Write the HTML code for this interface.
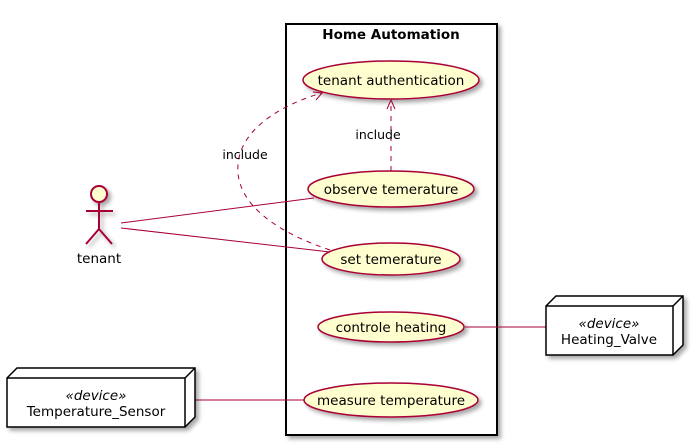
<!DOCTYPE html>
<html><head><style>body{margin:0;background:#fff}svg{display:block}</style></head><body>
<svg width="691" height="446" viewBox="0 0 691 446" xmlns="http://www.w3.org/2000/svg" font-family="'DejaVu Sans','Liberation Sans',sans-serif">
<defs><filter id="s" x="-20%" y="-20%" width="150%" height="160%"><feGaussianBlur in="SourceAlpha" stdDeviation="2"/><feOffset dx="3" dy="3"/><feComponentTransfer><feFuncA type="linear" slope="0.35"/></feComponentTransfer><feMerge><feMergeNode/><feMergeNode in="SourceGraphic"/></feMerge></filter></defs>
<rect x="286" y="24" width="211" height="411" fill="#fff" stroke="#000" stroke-width="2" filter="url(#s)"/>
<text x="391" y="39" font-size="13.5" font-weight="bold" text-anchor="middle">Home Automation</text>
<g fill="#FEFECE" stroke="#A80036" stroke-width="1.5" filter="url(#s)">
<ellipse cx="391" cy="80" rx="88" ry="19"/>
<ellipse cx="391" cy="189" rx="83" ry="18"/>
<ellipse cx="391" cy="259" rx="69" ry="16"/>
<ellipse cx="391" cy="327" rx="73" ry="15"/>
<ellipse cx="391" cy="400" rx="87" ry="17"/>
</g>
<g font-size="13.5" text-anchor="middle" fill="#000">
<text x="391" y="85">tenant authentication</text>
<text x="391" y="194">observe temerature</text>
<text x="391" y="264">set temerature</text>
<text x="391" y="332">controle heating</text>
<text x="391" y="405">measure temperature</text>
</g>
<g stroke="#A80036" fill="none" stroke-width="1">
<line x1="121" y1="223" x2="314" y2="198"/>
<line x1="121" y1="228" x2="330" y2="252"/>
<line x1="465" y1="327" x2="546" y2="327"/>
<line x1="195" y1="400" x2="304" y2="400"/>
<path d="M330,250 C270,230 235,200 238,165 C240,130 280,105 322,93" stroke-dasharray="5,5"/>
<path d="M313,92 L322,93 L316,100" />
<line x1="391" y1="171" x2="391" y2="101" stroke-dasharray="5,5"/>
<path d="M387,109 L391,100 L395,109"/>
</g>
<text x="245" y="159" font-size="12.5" text-anchor="middle">include</text>
<text x="378" y="139" font-size="12.5" text-anchor="middle">include</text>
<g stroke="#A80036" stroke-width="2" fill="none" filter="url(#s)">
<circle cx="99" cy="194" r="8" fill="#FEFECE"/>
<line x1="99" y1="202" x2="99" y2="229"/>
<line x1="86" y1="211" x2="113" y2="211"/>
<path d="M86,244 L99,229 L112,244"/>
</g>
<text x="99" y="263" font-size="13.5" text-anchor="middle">tenant</text>
<g stroke="#000" stroke-width="1.5" fill="#fff" filter="url(#s)">
<path d="M546,306 L556,296 L683,296 L683,345 L673,355 L546,355 Z"/>
<path d="M546,306 L673,306 L683,296 M673,306 L673,355" fill="none"/>
<path d="M7,378 L17,368 L195,368 L195,417 L185,427 L7,427 Z"/>
<path d="M7,378 L185,378 L195,368 M185,378 L185,427" fill="none"/>
</g>
<g font-size="13.5" text-anchor="middle">
<text x="609" y="328" font-style="italic">«device»</text>
<text x="609" y="344">Heating_Valve</text>
<text x="96" y="400" font-style="italic">«device»</text>
<text x="96" y="416">Temperature_Sensor</text>
</g>
</svg>
</body></html>
